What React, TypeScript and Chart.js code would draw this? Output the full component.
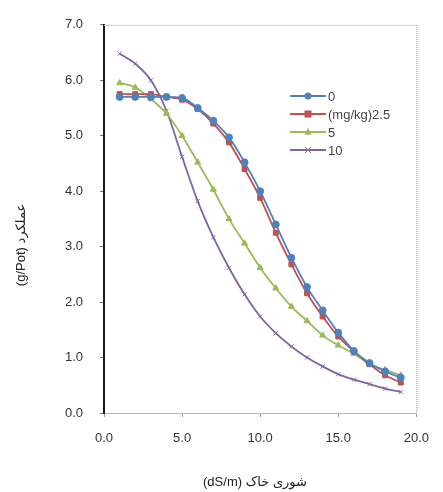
import React, { useEffect, useRef } from "react";
import { Chart, registerables } from "chart.js";

Chart.register(...registerables);

const salinity = [1, 2, 3, 4, 5, 6, 7, 8, 9, 10, 11, 12, 13, 14, 15, 16, 17, 18, 19];
const series0 = [5.7, 5.7, 5.7, 5.7, 5.68, 5.5, 5.27, 4.97, 4.52, 4.0, 3.4, 2.8, 2.27, 1.85, 1.45, 1.12, 0.9, 0.75, 0.64];
const series25 = [5.75, 5.75, 5.75, 5.7, 5.65, 5.48, 5.22, 4.88, 4.4, 3.88, 3.25, 2.68, 2.16, 1.74, 1.38, 1.11, 0.88, 0.68, 0.55];
const series5 = [5.95, 5.87, 5.66, 5.4, 5.0, 4.52, 4.03, 3.5, 3.06, 2.62, 2.25, 1.92, 1.66, 1.4, 1.22, 1.07, 0.88, 0.78, 0.68];
const series10 = [6.48, 6.3, 6.0, 5.45, 4.62, 3.82, 3.17, 2.62, 2.14, 1.74, 1.44, 1.2, 1.0, 0.84, 0.7, 0.6, 0.52, 0.44, 0.38];
const seriesLabels = ["0", "(mg/kg)2.5", "5", "10"];
const xTitle = "(dS/m) شوری خاک";
const yTitle = "(g/Pot) عملکرد";

const colors = ["#4F81BD", "#C0504D", "#9BBB59", "#8064A2"];
const pointStyles = ["circle", "rect", "triangle", "crossRot"];

export default function App() {
  const ref = useRef<HTMLCanvasElement | null>(null);

  useEffect(() => {
    document.body.style.margin = "0";
    const canvas = ref.current!;
    const seriesData = [series0, series25, series5, series10];
    const datasets = seriesData.map((s, i) => ({
      label: seriesLabels[i],
      data: salinity.map((x, j) => ({ x, y: s[j] })),
      borderColor: colors[i],
      backgroundColor: colors[i],
      pointBorderColor: colors[i],
      pointBackgroundColor: colors[i],
      pointStyle: pointStyles[i] as any,
      pointRadius: i === 3 ? 3 : 3.5,
      pointBorderWidth: 1,
      borderWidth: 1.8,
      tension: 0.4,
      cubicInterpolationMode: "monotone" as const,
    }));

    function drawMarker(ctx: CanvasRenderingContext2D, style: string, x: number, y: number, r: number) {
      ctx.beginPath();
      if (style === "circle") {
        ctx.arc(x, y, r, 0, Math.PI * 2);
        ctx.fill();
      } else if (style === "rect") {
        ctx.fillRect(x - r, y - r, 2 * r, 2 * r);
      } else if (style === "triangle") {
        ctx.moveTo(x, y - r * 1.2);
        ctx.lineTo(x + r, y + r * 0.8);
        ctx.lineTo(x - r, y + r * 0.8);
        ctx.closePath();
        ctx.fill();
      } else {
        ctx.moveTo(x - r, y - r);
        ctx.lineTo(x + r, y + r);
        ctx.moveTo(x + r, y - r);
        ctx.lineTo(x - r, y + r);
        ctx.stroke();
      }
    }

    const decor = {
      id: "decor",
      afterDraw(chart: any) {
        const ctx = chart.ctx;
        const a = chart.chartArea;
        ctx.save();
        ctx.strokeStyle = "#d0d0d0";
        ctx.lineWidth = 1;
        ctx.beginPath();
        ctx.moveTo(a.left, a.top + 0.5);
        ctx.lineTo(a.right, a.top + 0.5);
        ctx.stroke();
        ctx.setLineDash([1, 1]);
        ctx.strokeStyle = "#9a9a9a";
        ctx.beginPath();
        ctx.moveTo(a.right + 0.5, a.top);
        ctx.lineTo(a.right + 0.5, a.bottom);
        ctx.stroke();
        ctx.setLineDash([]);

        const lx = 290;
        let ly = 96;
        ctx.font = "13px 'Liberation Sans', 'DejaVu Sans', sans-serif";
        ctx.textBaseline = "middle";
        ctx.textAlign = "left";
        chart.data.datasets.forEach((ds: any) => {
          ctx.strokeStyle = ds.borderColor;
          ctx.lineWidth = 1.8;
          ctx.beginPath();
          ctx.moveTo(lx, ly);
          ctx.lineTo(lx + 36, ly);
          ctx.stroke();
          ctx.fillStyle = ds.borderColor;
          ctx.lineWidth = 1;
          drawMarker(ctx, ds.pointStyle, lx + 18, ly, ds.pointRadius);
          ctx.fillStyle = "#444";
          ctx.fillText(ds.label, lx + 38, ly + 1);
          ly += 18;
        });

        ctx.fillStyle = "#222";
        ctx.font = "13px 'Liberation Sans', 'DejaVu Sans', sans-serif";
        ctx.textAlign = "center";
        ctx.textBaseline = "middle";
        ctx.fillText(xTitle, 255, 482);
        ctx.save();
        ctx.translate(21, 245);
        ctx.rotate(-Math.PI / 2);
        ctx.fillText(yTitle, 0, 0);
        ctx.restore();
        ctx.restore();
      },
    };

    const tickFont = { family: "'Liberation Sans', 'DejaVu Sans', sans-serif", size: 13 };

    const chart = new Chart(canvas, {
      type: "line",
      data: { datasets },
      plugins: [decor],
      options: {
        animation: false,
        responsive: false,
        layout: { padding: { left: 0, right: 16, top: 18, bottom: 0 } },
        plugins: { legend: { display: false }, tooltip: { enabled: false } },
        scales: {
          x: {
            type: "linear",
            min: 0,
            max: 20,
            ticks: {
              stepSize: 5,
              color: "#333",
              font: tickFont,
              padding: 14,
              callback: (v: any) => Number(v).toFixed(1),
            },
            grid: { display: true, drawOnChartArea: false, drawTicks: true, tickLength: 4, color: "#999" },
            border: { display: true, color: "#b8b8b8", width: 1 },
            afterFit: (s: any) => {
              s.height = 79;
            },
          },
          y: {
            type: "linear",
            min: 0,
            max: 7,
            ticks: {
              stepSize: 1,
              color: "#333",
              font: tickFont,
              padding: 17,
              callback: (v: any) => Number(v).toFixed(1),
            },
            grid: { display: true, drawOnChartArea: false, drawTicks: true, tickLength: 4, color: "#777" },
            border: { display: true, color: "#1a1a1a", width: 2 },
            afterFit: (s: any) => {
              s.width = 104;
            },
          },
        },
      },
    });
    return () => chart.destroy();
  }, []);

  return (
    <div style={{ position: "fixed", left: 0, top: 0, width: 443, height: 492, background: "#fff" }}>
      <canvas ref={ref} width={443} height={492} style={{ width: 443, height: 492 }} />
    </div>
  );
}
